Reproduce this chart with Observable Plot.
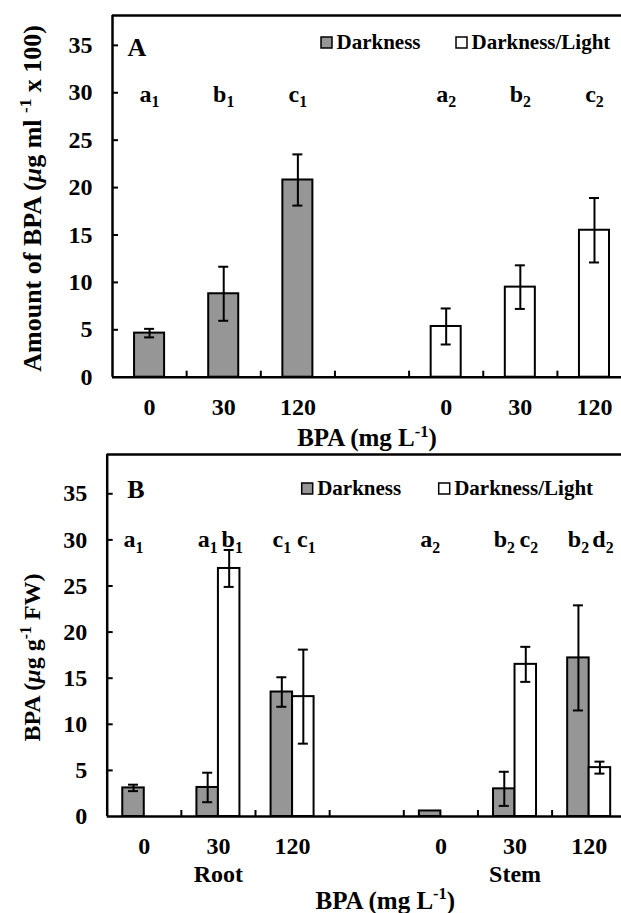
<!DOCTYPE html>
<html><head><meta charset="utf-8">
<script src="https://cdn.jsdelivr.net/npm/d3@7"></script>
<script src="https://cdn.jsdelivr.net/npm/@observablehq/plot@0.6"></script>
<style>
html,body{margin:0;padding:0;background:#fff;overflow:hidden;}
#chart{width:621px;}
#chart svg{display:block;}
#chart svg text{font-family:"Liberation Serif","Times New Roman",serif !important;font-weight:bold;}
</style></head><body><div id="chart"></div>
<script>
// ---------- data ----------
const categories = ["L0", "L30", "L120", "gap", "R0", "R30", "R120"];
const doseLabels = ["0", "30", "120", "", "0", "30", "120"];
const seriesNames = ["Darkness", "Darkness/Light"];
const seriesColors = ["#969696", "#ffffff"];
const yTicks = [0, 5, 10, 15, 20, 25, 30, 35];

// Panel A: amount of BPA (µg ml-1 x 100)
const aDarkKeys = ["L0", "L30", "L120"];
const aDarkValues = [4.65, 8.8, 20.8];
const aDarkErrors = [0.45, 2.85, 2.7];
const aDarkLetters = ["a₁", "b₁", "c₁"];
const aLightKeys = ["R0", "R30", "R120"];
const aLightValues = [5.35, 9.5, 15.5];
const aLightErrors = [1.9, 2.3, 3.4];
const aLightLetters = ["a₂", "b₂", "c₂"];

// Panel B: BPA (µg g-1 FW), root (left group) and stem (right group)
const bOrgans = ["Root", "Stem"];
const bOrganKeys = ["L30", "R30"];
const bRootKeys = ["L0", "L30", "L120"];
const bStemKeys = ["R0", "R30", "R120"];
const bRootDark = [3.1, 3.15, 13.5];
const bRootDarkErr = [0.35, 1.6, 1.6];
const bRootDarkLetters = ["a₁", "a₁", "c₁"];
const bRootLight = [0, 26.9, 13.0];
const bRootLightErr = [0, 2.0, 5.1];
const bRootLightLetters = ["", "b₁", "c₁"];
const bStemDark = [0.6, 3.0, 17.2];
const bStemDarkErr = [0, 1.85, 5.7];
const bStemDarkLetters = ["a₂", "b₂", "b₂"];
const bStemLight = [0, 16.5, 5.3];
const bStemLightErr = [0, 1.9, 0.65];
const bStemLightLetters = ["", "c₂", "d₂"];

// ---------- helpers ----------
const FONT = "Liberation Serif";
const STEP = 74.15;
const W = 621;
const pos = k => categories.indexOf(k) + 1;

function rows(keys, values, errors, letters, s, off, half) {
  return keys.map((k, i) => ({c: pos(k) + off, half, s, v: values[i], e: errors[i], letter: letters[i]}));
}

function panel(cfg) {
  const {height, ml, mt, mb, yMax, bars, letterDy, lightLetterDx, tag, tagDx, tagDy, legend, legDy,
         xTitle, xTitleDx, xTitleDy, yTitle, yTitleSize, yTitleDx, yTitleDy, groups, groupDy} = cfg;
  const x0 = 0.5;
  const T = {fontFamily: FONT, fontWeight: "bold"};
  const withErr = bars.filter(d => d.e > 0);
  const marks = [
    // bars
    ...[0, 1].map(s => Plot.rect(bars.filter(d => d.s === s && d.v > 0), {
      x1: d => d.c - d.half, x2: d => d.c + d.half, y1: () => 0, y2: d => d.v,
      fill: seriesColors[s], stroke: "#000", strokeWidth: 2
    })),
    // error bars
    Plot.ruleX(withErr, {x: d => d.c, y1: d => d.v - d.e, y2: d => d.v + d.e, stroke: "#000", strokeWidth: 2}),
    Plot.ruleY(withErr, {x1: d => d.c, x2: d => d.c, y: d => d.v + d.e, insetLeft: -5, insetRight: -5, stroke: "#000", strokeWidth: 2}),
    Plot.ruleY(withErr, {x1: d => d.c, x2: d => d.c, y: d => d.v - d.e, insetLeft: -5, insetRight: -5, stroke: "#000", strokeWidth: 2}),
    // frame lines
    Plot.ruleX([x0], {x: d => d, stroke: "#000", strokeWidth: 2.5}),
    Plot.ruleY([0], {y: d => d, stroke: "#000", strokeWidth: 2.5}),
    Plot.ruleY([yMax], {y: d => d, stroke: "#000", strokeWidth: 2.5}),
    // inward ticks
    Plot.ruleY(yTicks.filter(t => t > 0), {x1: () => x0, x2: () => x0, y: d => d, insetRight: -6, stroke: "#000", strokeWidth: 2}),
    Plot.ruleX(d3.range(1.5, categories.length + 0.5, 1), {x: d => d, y1: () => 0, y2: () => 0, insetTop: -6, stroke: "#000", strokeWidth: 2}),
    // y tick labels
    Plot.text(yTicks, {...T, frameAnchor: "left", y: d => d, text: d => String(d), textAnchor: "end", lineAnchor: "middle", dx: -20, fontSize: 24}),
    // x tick labels
    Plot.text(categories, {...T, x: (d, i) => i + 1, text: (d, i) => doseLabels[i], frameAnchor: "bottom", textAnchor: "middle", lineAnchor: "middle", dy: 30, fontSize: 24}),
    // significance letters
    Plot.text(bars.filter(d => d.letter && d.s === 0), {...T, x: d => d.c, y: () => 30, text: d => d.letter, textAnchor: "middle", lineAnchor: "bottom", dy: letterDy, fontSize: 24}),
    Plot.text(bars.filter(d => d.letter && d.s === 1), {...T, x: d => d.c, y: () => 30, text: d => d.letter, textAnchor: "middle", lineAnchor: "bottom", dx: lightLetterDx, dy: letterDy, fontSize: 24}),
    // panel tag
    Plot.text([tag], {...T, frameAnchor: "top-left", textAnchor: "start", lineAnchor: "middle", dx: tagDx, dy: tagDy, fontSize: 26}),
    // legend
    ...legend.flatMap((lx, s) => [
      Plot.dot([s], {frameAnchor: "top-left", dx: lx, dy: legDy, symbol: "square", r: 6.2, fill: seriesColors[s], stroke: "#000", strokeWidth: 1.5}),
      Plot.text([seriesNames[s]], {...T, frameAnchor: "top-left", dx: lx + 10, dy: legDy, textAnchor: "start", lineAnchor: "middle", fontSize: 21})
    ]),
    // axis titles
    Plot.text([xTitle], {...T, frameAnchor: "bottom", textAnchor: "middle", lineAnchor: "middle", dx: xTitleDx, dy: xTitleDy, fontSize: 25}),
    Plot.text([yTitle], {...T, frameAnchor: "left", rotate: -90, textAnchor: "middle", lineAnchor: "middle", dx: yTitleDx, dy: yTitleDy, fontSize: yTitleSize})
  ];
  if (groups) {
    marks.push(Plot.text(groups.names, {...T, x: (d, i) => pos(groups.keys[i]), text: d => d, frameAnchor: "bottom", textAnchor: "middle", lineAnchor: "middle", dy: groupDy, fontSize: 24}));
  }
  return Plot.plot({
    width: W, height, marginLeft: ml, marginTop: mt, marginBottom: mb, marginRight: 0,
    x: {type: "linear", domain: [x0, categories.length + 0.5], range: [ml, ml + categories.length * STEP], axis: null},
    y: {domain: [0, yMax], axis: null},
    style: "font-family:'Liberation Serif',serif;font-weight:bold;background:#fff;overflow:visible;",
    marks
  });
}

// ---------- panel A ----------
const halfA = 0.2025;
const aBars = [
  ...rows(aDarkKeys, aDarkValues, aDarkErrors, aDarkLetters, 0, 0, halfA),
  ...rows(aLightKeys, aLightValues, aLightErrors, aLightLetters, 1, 0, halfA)
];
const plotA = panel({
  height: 450, ml: 112, mt: 15, mb: 73.3, yMax: 38.15, bars: aBars, letterDy: 9.4, lightLetterDx: 0,
  tag: "A", tagDx: 15, tagDy: 32, legend: [214, 349], legDy: 27,
  xTitle: "BPA (mg L⁻¹)", xTitleDx: 0, xTitleDy: 61,
  yTitle: "Amount of BPA (μg ml ⁻¹ x 100)", yTitleSize: 26, yTitleDx: -80, yTitleDy: 2
});

// ---------- panel B ----------
const halfB = 0.145;
const bBars = [
  ...rows(bRootKeys, bRootDark, bRootDarkErr, bRootDarkLetters, 0, -halfB, halfB),
  ...rows(bRootKeys, bRootLight, bRootLightErr, bRootLightLetters, 1, halfB, halfB),
  ...rows(bStemKeys, bStemDark, bStemDarkErr, bStemDarkLetters, 0, -halfB, halfB),
  ...rows(bStemKeys, bStemLight, bStemLightErr, bStemLightLetters, 1, halfB, halfB)
];
const plotB = panel({
  height: 463, ml: 106.7, mt: 4, mb: 97, yMax: 39.26, bars: bBars, letterDy: 7.5, lightLetterDx: 3,
  tag: "B", tagDx: 20, tagDy: 35, legend: [200, 337], legDy: 34,
  xTitle: "BPA (mg L⁻¹)", xTitleDx: 21, xTitleDy: 84,
  yTitle: "BPA (μg g⁻¹ FW)", yTitleSize: 24, yTitleDx: -75, yTitleDy: 22,
  groups: {names: bOrgans, keys: bOrganKeys}, groupDy: 58
});

const root = document.getElementById("chart");
root.appendChild(plotA);
root.appendChild(plotB);

// ---------- rich text: sub/superscripts and italic mu ----------
const SUB = {"₀":"0","₁":"1","₂":"2","₃":"3"};
const SUP = {"⁻":"-","¹":"1","²":"2"};
const NS = "http://www.w3.org/2000/svg";
document.querySelectorAll("#chart svg text").forEach(el => {
  const s = el.textContent;
  if (!/[₀-₉⁻¹²μ]/.test(s)) return;
  const fs = parseFloat(getComputedStyle(el).fontSize) || 24;
  const runs = [];
  for (const ch of s) {
    let type = "n", t = ch;
    if (SUB[ch]) { type = "sub"; t = SUB[ch]; }
    else if (SUP[ch]) { type = "sup"; t = SUP[ch]; }
    else if (ch === "μ") type = "it";
    const last = runs[runs.length - 1];
    if (last && last.type === type) last.text += t; else runs.push({type, text: t});
  }
  el.textContent = "";
  let shift = 0;
  for (const r of runs) {
    const ts = document.createElementNS(NS, "tspan");
    ts.textContent = r.text;
    let target = 0;
    if (r.type === "sub") { ts.setAttribute("font-size", (fs * 0.66) + "px"); target = fs * 0.22; }
    if (r.type === "sup") { ts.setAttribute("font-size", (fs * 0.66) + "px"); target = -fs * 0.38; }
    if (r.type === "it") ts.setAttribute("font-style", "italic");
    if (target !== shift) { ts.setAttribute("dy", (target - shift) + "px"); shift = target; }
    el.appendChild(ts);
  }
});
</script></body></html>
